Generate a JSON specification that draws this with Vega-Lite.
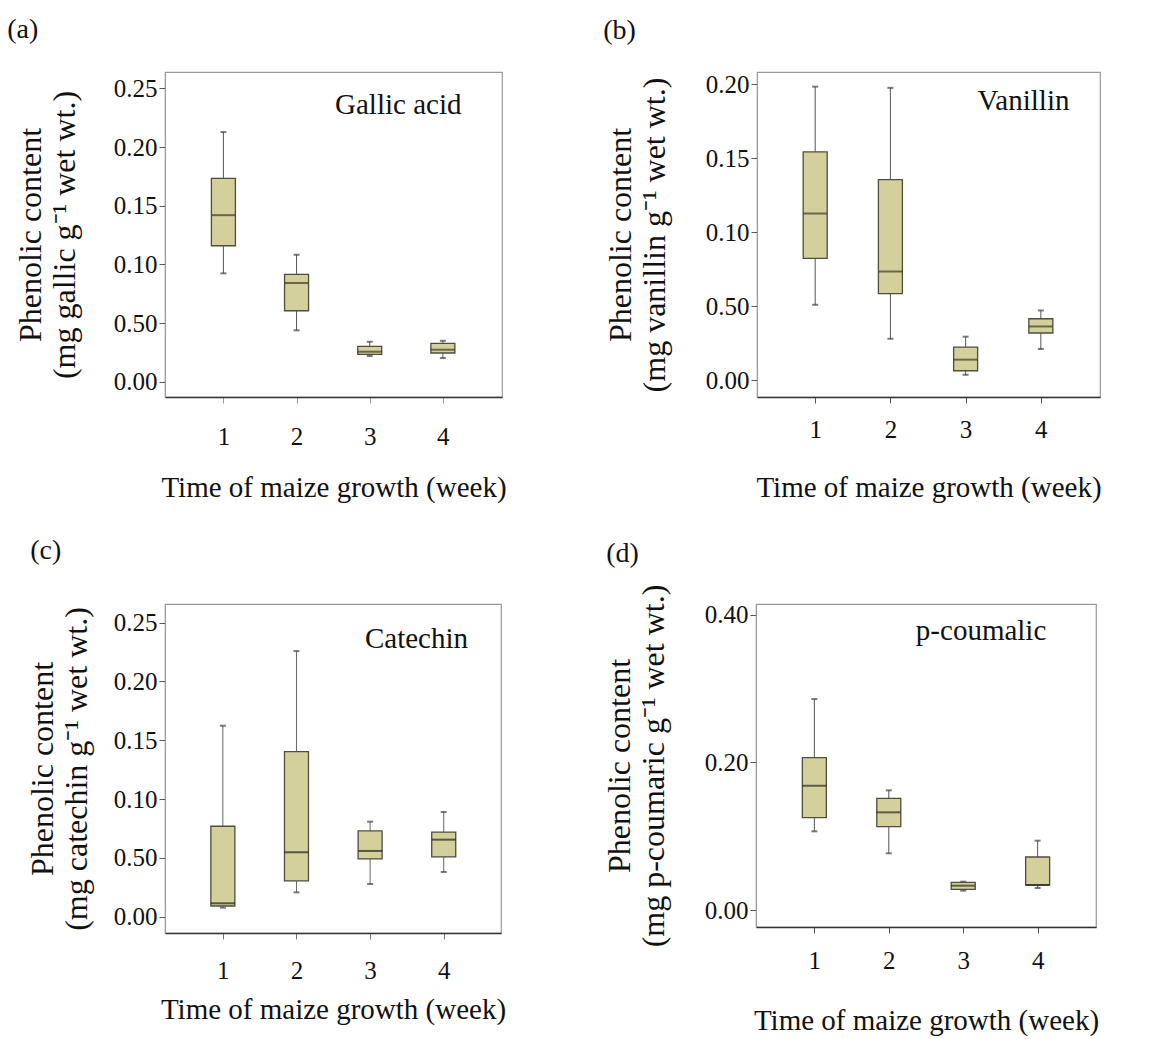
{
  "$schema": "https://vega.github.io/schema/vega-lite/v6.json",
  "background": "white",
  "padding": {"left": 6, "top": 15, "right": 5, "bottom": 5},
  "config": {
    "font": "Liberation Serif",
    "view": {"stroke": "#9a9a9a", "strokeWidth": 1.2},
    "title": {"font": "Liberation Serif", "fontSize": 28, "fontWeight": "normal", "anchor": "start", "frame": "bounds", "color": "#111"},
    "axis": {"labelFont": "Liberation Serif", "titleFont": "Liberation Serif", "labelFontSize": 25, "labelColor": "#111", "titleColor": "#111", "titleFontWeight": "normal", "grid": false, "tickColor": "#555", "tickSize": 6}
  },
  "datasets": {
    "boxes": [
      {"panel": "a", "week": 1, "lo": 0.0924, "q1": 0.1159, "med": 0.142, "q3": 0.1733, "hi": 0.2128},
      {"panel": "a", "week": 2, "lo": 0.0438, "q1": 0.0605, "med": 0.0841, "q3": 0.0915, "hi": 0.1082},
      {"panel": "a", "week": 3, "lo": 0.0219, "q1": 0.0233, "med": 0.0256, "q3": 0.0302, "hi": 0.0341},
      {"panel": "a", "week": 4, "lo": 0.0202, "q1": 0.0245, "med": 0.0273, "q3": 0.0327, "hi": 0.0349},
      {"panel": "b", "week": 1, "lo": 0.051, "q1": 0.0823, "med": 0.1126, "q3": 0.1542, "hi": 0.1982},
      {"panel": "b", "week": 2, "lo": 0.0281, "q1": 0.0585, "med": 0.0735, "q3": 0.1355, "hi": 0.1974},
      {"panel": "b", "week": 3, "lo": 0.0038, "q1": 0.0065, "med": 0.014, "q3": 0.0225, "hi": 0.0295},
      {"panel": "b", "week": 4, "lo": 0.0212, "q1": 0.032, "med": 0.0364, "q3": 0.0416, "hi": 0.0472},
      {"panel": "c", "week": 1, "lo": 0.0077, "q1": 0.0091, "med": 0.0114, "q3": 0.0769, "hi": 0.1624},
      {"panel": "c", "week": 2, "lo": 0.0207, "q1": 0.0304, "med": 0.0548, "q3": 0.1403, "hi": 0.2259},
      {"panel": "c", "week": 3, "lo": 0.0278, "q1": 0.0491, "med": 0.0559, "q3": 0.0729, "hi": 0.0808},
      {"panel": "c", "week": 4, "lo": 0.038, "q1": 0.0508, "med": 0.0655, "q3": 0.072, "hi": 0.089},
      {"panel": "d", "week": 1, "lo": 0.1066, "q1": 0.1251, "med": 0.1684, "q3": 0.2063, "hi": 0.2858},
      {"panel": "d", "week": 2, "lo": 0.0768, "q1": 0.1129, "med": 0.1323, "q3": 0.1513, "hi": 0.1621},
      {"panel": "d", "week": 3, "lo": 0.0262, "q1": 0.028, "med": 0.033, "q3": 0.0375, "hi": 0.0384},
      {"panel": "d", "week": 4, "lo": 0.0298, "q1": 0.0339, "med": 0.0339, "q3": 0.0718, "hi": 0.0939}
    ],
    "names": [
      {"panel": "a", "name": "Gallic acid"},
      {"panel": "b", "name": "Vanillin"},
      {"panel": "c", "name": "Catechin"},
      {"panel": "d", "name": "p-coumalic"}
    ]
  },
  "vconcat": [
    {
      "hconcat": [
        {
          "width": 337, "height": 325,
          "title": {"text": "(a)", "dx": -7, "offset": 28},
          "layer": [
            {"data": {"name": "boxes"}, "transform": [{"filter": "datum.panel == 'a'"}],
             "layer": [
               {"mark": {"type": "rule", "color": "#555", "strokeWidth": 1}, "encoding": {"y": {"field": "lo", "type": "quantitative"}, "y2": {"field": "hi"}}},
               {"mark": {"type": "tick", "orient": "horizontal", "size": 6, "thickness": 2, "color": "#444"}, "encoding": {"y": {"field": "lo", "type": "quantitative"}}},
               {"mark": {"type": "tick", "orient": "horizontal", "size": 6, "thickness": 2, "color": "#444"}, "encoding": {"y": {"field": "hi", "type": "quantitative"}}},
               {"mark": {"type": "bar", "width": 24, "fill": "#d4d09b", "stroke": "#4d4d40", "strokeWidth": 1.3}, "encoding": {"y": {"field": "q1", "type": "quantitative"}, "y2": {"field": "q3"}}},
               {"mark": {"type": "tick", "orient": "horizontal", "size": 24, "thickness": 2, "color": "#3b3b2e"}, "encoding": {"y": {"field": "med", "type": "quantitative"}}}
             ],
             "encoding": {"x": {"field": "week", "type": "quantitative"}}
            },
            {"data": {"name": "names"}, "transform": [{"filter": "datum.panel == 'a'"}],
             "mark": {"type": "text", "fontSize": 29, "font": "Liberation Serif", "color": "#111", "baseline": "alphabetic", "align": "center"},
             "encoding": {"x": {"datum": 3.39, "type": "quantitative"}, "y": {"datum": 0.228, "type": "quantitative"}, "text": {"field": "name"}}}
          ],
          "encoding": {
            "x": {"type": "quantitative", "scale": {"domain": [0.27, 4.74], "nice": false, "zero": false},
                  "axis": {"values": [1, 2, 3, 4], "format": "d", "title": "Time of maize growth (week)", "titleFontSize": 29, "labelPadding": 21, "titlePadding": 24, "domainColor": "#333", "domainWidth": 1.5, "tickColor": "#999"}},
            "y": {"type": "quantitative", "scale": {"domain": [-0.013, 0.264], "nice": false, "zero": false},
                  "axis": {"values": [0, 0.05, 0.1, 0.15, 0.2, 0.25], "labelExpr": "abs(datum.value - 0.05) < 1e-6 ? '0.50' : format(datum.value, '.2f')", "title": ["Phenolic content", "(mg gallic g⁻¹  wet wt.)"], "titleFontSize": 32, "titleLineHeight": 34, "labelPadding": 2, "titlePadding": 32, "domainColor": "#999"}}
          }
        },
        {
          "width": 343, "height": 325,
          "title": {"text": "(b)", "dx": -1, "offset": 27},
          "layer": [
            {"data": {"name": "boxes"}, "transform": [{"filter": "datum.panel == 'b'"}],
             "layer": [
               {"mark": {"type": "rule", "color": "#555", "strokeWidth": 1}, "encoding": {"y": {"field": "lo", "type": "quantitative"}, "y2": {"field": "hi"}}},
               {"mark": {"type": "tick", "orient": "horizontal", "size": 6, "thickness": 2, "color": "#444"}, "encoding": {"y": {"field": "lo", "type": "quantitative"}}},
               {"mark": {"type": "tick", "orient": "horizontal", "size": 6, "thickness": 2, "color": "#444"}, "encoding": {"y": {"field": "hi", "type": "quantitative"}}},
               {"mark": {"type": "bar", "width": 24, "fill": "#d4d09b", "stroke": "#4d4d40", "strokeWidth": 1.3}, "encoding": {"y": {"field": "q1", "type": "quantitative"}, "y2": {"field": "q3"}}},
               {"mark": {"type": "tick", "orient": "horizontal", "size": 24, "thickness": 2, "color": "#3b3b2e"}, "encoding": {"y": {"field": "med", "type": "quantitative"}}}
             ],
             "encoding": {"x": {"field": "week", "type": "quantitative"}}
            },
            {"data": {"name": "names"}, "transform": [{"filter": "datum.panel == 'b'"}],
             "mark": {"type": "text", "fontSize": 29, "font": "Liberation Serif", "color": "#111", "baseline": "alphabetic", "align": "center"},
             "encoding": {"x": {"datum": 3.77, "type": "quantitative"}, "y": {"datum": 0.1825, "type": "quantitative"}, "text": {"field": "name"}}}
          ],
          "encoding": {
            "x": {"type": "quantitative", "scale": {"domain": [0.293, 4.72], "nice": false, "zero": false},
                  "axis": {"values": [1, 2, 3, 4], "format": "d", "title": "Time of maize growth (week)", "titleFontSize": 29, "labelPadding": 14, "titlePadding": 31, "domainColor": "#333", "domainWidth": 1.5, "tickColor": "#555"}},
            "y": {"type": "quantitative", "scale": {"domain": [-0.0112, 0.2081], "nice": false, "zero": false},
                  "axis": {"values": [0, 0.05, 0.1, 0.15, 0.2], "labelExpr": "abs(datum.value - 0.05) < 1e-6 ? '0.50' : format(datum.value, '.2f')", "title": ["Phenolic content", "(mg vanillin g⁻¹  wet wt.)"], "titleFontSize": 32, "titleLineHeight": 34, "labelPadding": 2, "titlePadding": 34, "domainColor": "#999"}}
          }
        }
      ],
      "spacing": 95
    },
    {
      "hconcat": [
        {
          "width": 336, "height": 329,
          "title": {"text": "(c)", "dx": 4, "offset": 38},
          "layer": [
            {"data": {"name": "boxes"}, "transform": [{"filter": "datum.panel == 'c'"}],
             "layer": [
               {"mark": {"type": "rule", "color": "#666", "strokeWidth": 1}, "encoding": {"y": {"field": "lo", "type": "quantitative"}, "y2": {"field": "hi"}}},
               {"mark": {"type": "tick", "orient": "horizontal", "size": 6, "thickness": 2, "color": "#444"}, "encoding": {"y": {"field": "lo", "type": "quantitative"}}},
               {"mark": {"type": "tick", "orient": "horizontal", "size": 6, "thickness": 2, "color": "#444"}, "encoding": {"y": {"field": "hi", "type": "quantitative"}}},
               {"mark": {"type": "bar", "width": 24, "fill": "#d4d09b", "stroke": "#4d4d40", "strokeWidth": 1.3}, "encoding": {"y": {"field": "q1", "type": "quantitative"}, "y2": {"field": "q3"}}},
               {"mark": {"type": "tick", "orient": "horizontal", "size": 24, "thickness": 2, "color": "#222"}, "encoding": {"y": {"field": "med", "type": "quantitative"}}}
             ],
             "encoding": {"x": {"field": "week", "type": "quantitative"}}
            },
            {"data": {"name": "names"}, "transform": [{"filter": "datum.panel == 'c'"}],
             "mark": {"type": "text", "fontSize": 29, "font": "Liberation Serif", "color": "#111", "baseline": "alphabetic", "align": "center"},
             "encoding": {"x": {"datum": 3.63, "type": "quantitative"}, "y": {"datum": 0.2285, "type": "quantitative"}, "text": {"field": "name"}}}
          ],
          "encoding": {
            "x": {"type": "quantitative", "scale": {"domain": [0.282, 4.71], "nice": false, "zero": false},
                  "axis": {"values": [1, 2, 3, 4], "format": "d", "title": "Time of maize growth (week)", "titleFontSize": 29, "labelPadding": 19, "titlePadding": 12, "domainColor": "#333", "domainWidth": 1.5, "tickColor": "#777"}},
            "y": {"type": "quantitative", "scale": {"domain": [-0.01386, 0.2659], "nice": false, "zero": false},
                  "axis": {"values": [0, 0.05, 0.1, 0.15, 0.2, 0.25], "labelExpr": "abs(datum.value - 0.05) < 1e-6 ? '0.50' : format(datum.value, '.2f')", "title": ["Phenolic content", "(mg catechin g⁻¹  wet wt.)"], "titleFontSize": 32, "titleLineHeight": 34, "labelPadding": 2, "titlePadding": 20, "domainColor": "#999"}}
          }
        },
        {
          "width": 340, "height": 323,
          "title": {"text": "(d)", "dx": 3, "offset": 12},
          "layer": [
            {"data": {"name": "boxes"}, "transform": [{"filter": "datum.panel == 'd'"}],
             "layer": [
               {"mark": {"type": "rule", "color": "#555", "strokeWidth": 1}, "encoding": {"y": {"field": "lo", "type": "quantitative"}, "y2": {"field": "hi"}}},
               {"mark": {"type": "tick", "orient": "horizontal", "size": 6, "thickness": 2, "color": "#444"}, "encoding": {"y": {"field": "lo", "type": "quantitative"}}},
               {"mark": {"type": "tick", "orient": "horizontal", "size": 6, "thickness": 2, "color": "#444"}, "encoding": {"y": {"field": "hi", "type": "quantitative"}}},
               {"mark": {"type": "bar", "width": 24, "fill": "#d4d09b", "stroke": "#4d4d40", "strokeWidth": 1.3}, "encoding": {"y": {"field": "q1", "type": "quantitative"}, "y2": {"field": "q3"}}},
               {"mark": {"type": "tick", "orient": "horizontal", "size": 24, "thickness": 2, "color": "#2b2b22"}, "encoding": {"y": {"field": "med", "type": "quantitative"}}}
             ],
             "encoding": {"x": {"field": "week", "type": "quantitative"}}
            },
            {"data": {"name": "names"}, "transform": [{"filter": "datum.panel == 'd'"}],
             "mark": {"type": "text", "fontSize": 29, "font": "Liberation Serif", "color": "#111", "baseline": "alphabetic", "align": "center"},
             "encoding": {"x": {"datum": 3.24, "type": "quantitative"}, "y": {"datum": 0.3657, "type": "quantitative"}, "text": {"field": "name"}}}
          ],
          "encoding": {
            "x": {"type": "quantitative", "scale": {"domain": [0.283, 4.717], "nice": false, "zero": false},
                  "axis": {"values": [1, 2, 3, 4], "format": "d", "title": "Time of maize growth (week)", "titleFontSize": 29, "labelPadding": 15, "titlePadding": 33, "domainColor": "#333", "domainWidth": 1.5, "tickColor": "#555"}},
            "y": {"type": "quantitative", "scale": {"domain": [-0.023, 0.4145], "nice": false, "zero": false},
                  "axis": {"values": [0, 0.2, 0.4], "format": ".2f", "title": ["Phenolic content", "(mg p-coumaric g⁻¹  wet wt.)"], "titleFontSize": 32, "titleLineHeight": 34, "labelPadding": 2, "titlePadding": 34, "domainColor": "#999"}}
          }
        }
      ],
      "spacing": 95
    }
  ],
  "spacing": 33
}
